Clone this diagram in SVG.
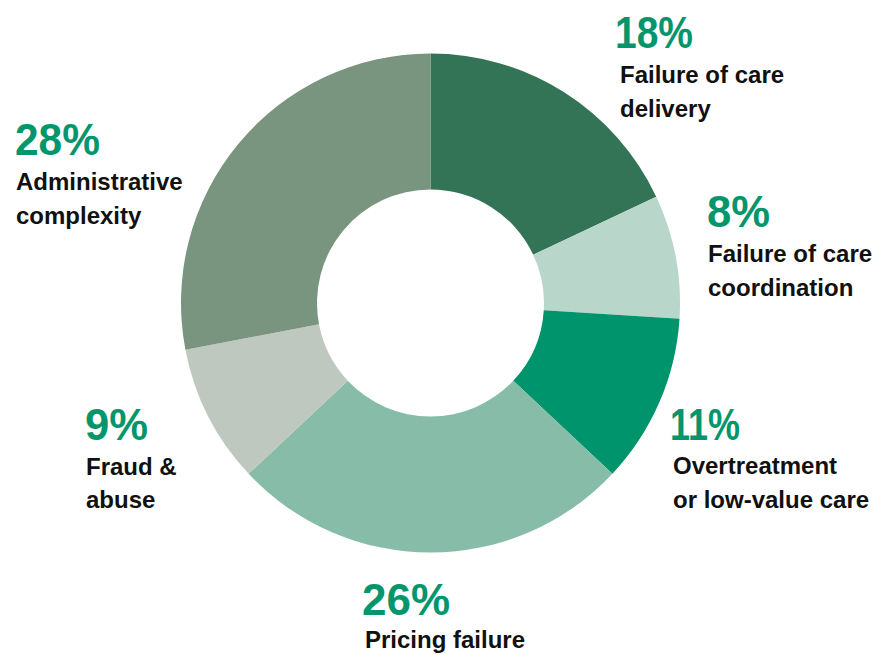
<svg xmlns="http://www.w3.org/2000/svg" width="892" height="654" viewBox="0 0 892 654">
<style>
.pct{font-family:"Liberation Sans",Arial,sans-serif;font-weight:bold;font-size:44px;fill:#03966c}
.lbl{font-family:"Liberation Sans",Arial,sans-serif;font-weight:bold;font-size:24px;fill:#111}
</style>
<rect width="892" height="654" fill="#ffffff"/>
<g id="slices">
<path id="s-delivery" d="M430.5,53.5 A249.5,249.5 0 0 1 656.25,196.77 L533.2,254.67 A113.5,113.5 0 0 0 430.5,189.5 Z" fill="#337456"/>
<path id="s-coordination" d="M656.25,196.77 A249.5,249.5 0 0 1 679.51,318.67 L543.78,310.13 A113.5,113.5 0 0 0 533.2,254.67 Z" fill="#b9d6ca"/>
<path id="s-overtreatment" d="M679.51,318.67 A249.5,249.5 0 0 1 612.38,473.8 L513.24,380.7 A113.5,113.5 0 0 0 543.78,310.13 Z" fill="#00946c"/>
<path id="s-pricing" d="M612.38,473.8 A249.5,249.5 0 0 1 248.62,473.8 L347.76,380.7 A113.5,113.5 0 0 0 513.24,380.7 Z" fill="#87bda8"/>
<path id="s-fraud" d="M248.62,473.8 A249.5,249.5 0 0 1 185.42,349.75 L319.01,324.27 A113.5,113.5 0 0 0 347.76,380.7 Z" fill="#bec8be"/>
<path id="s-admin" d="M185.42,349.75 A249.5,249.5 0 0 1 430.5,53.5 L430.5,189.5 A113.5,113.5 0 0 0 319.01,324.27 Z" fill="#79947f"/>
</g>
<g id="label-delivery">
<text class="pct" x="615" y="48" textLength="78" lengthAdjust="spacingAndGlyphs">18%</text>
<text class="lbl" x="620" y="83">Failure of care</text>
<text class="lbl" x="620" y="117">delivery</text>
</g>
<g id="label-coordination">
<text class="pct" x="707" y="227" textLength="63" lengthAdjust="spacingAndGlyphs">8%</text>
<text class="lbl" x="708" y="262">Failure of care</text>
<text class="lbl" x="708" y="296">coordination</text>
</g>
<g id="label-overtreatment">
<text class="pct" x="670" y="440" textLength="70" lengthAdjust="spacingAndGlyphs">11%</text>
<text class="lbl" x="673" y="474">Overtreatment</text>
<text class="lbl" x="673" y="508">or low-value care</text>
</g>
<g id="label-pricing">
<text class="pct" x="362" y="615" textLength="88" lengthAdjust="spacingAndGlyphs">26%</text>
<text class="lbl" x="365" y="648">Pricing failure</text>
</g>
<g id="label-fraud">
<text class="pct" x="85" y="440" textLength="63" lengthAdjust="spacingAndGlyphs">9%</text>
<text class="lbl" x="86" y="475">Fraud &amp;</text>
<text class="lbl" x="86" y="508">abuse</text>
</g>
<g id="label-admin">
<text class="pct" x="15" y="155" textLength="85" lengthAdjust="spacingAndGlyphs">28%</text>
<text class="lbl" x="16" y="190">Administrative</text>
<text class="lbl" x="16" y="224">complexity</text>
</g>
</svg>
